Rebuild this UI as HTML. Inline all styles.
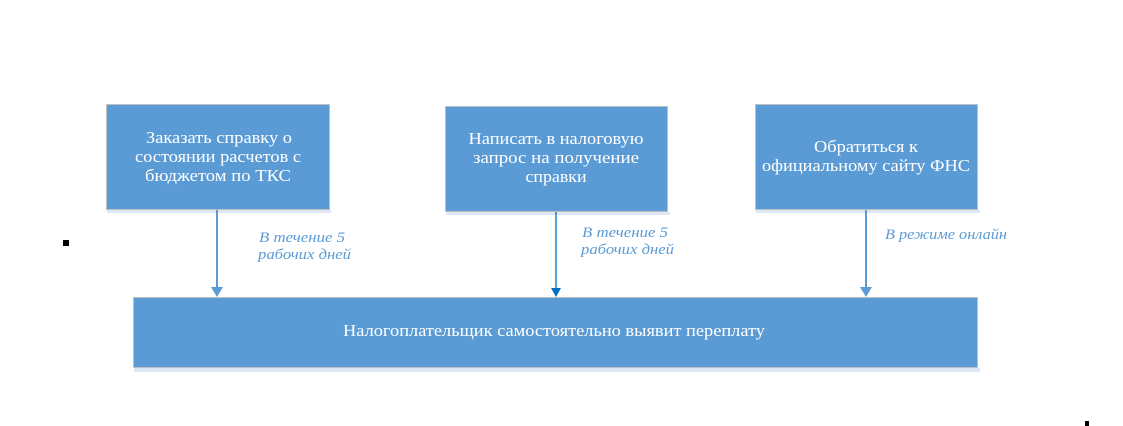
<!DOCTYPE html>
<html><head><meta charset="utf-8"><style>
html,body{margin:0;padding:0;background:#fff;}
svg{display:block}
.t{font-family:"Liberation Serif",serif;font-size:17px;fill:#fff;text-anchor:middle}
.l{font-family:"Liberation Serif",serif;font-size:15px;font-style:italic;fill:#5b9bd5}
</style></head><body>
<svg width="1123" height="426" viewBox="0 0 1123 426" xmlns="http://www.w3.org/2000/svg">
<rect x="107" y="210" width="224" height="3" fill="#dce8f5"/>
<rect x="446" y="212" width="224" height="3" fill="#dce8f5"/>
<rect x="756" y="210" width="224" height="3" fill="#dce8f5"/>
<rect x="134" y="368" width="846" height="4" fill="#dce8f5"/>
<rect x="106.5" y="104.5" width="223" height="105" fill="#5b9bd5" stroke="#bfbfbf"/>
<rect x="445.5" y="106.5" width="222" height="105" fill="#5b9bd5" stroke="#bfbfbf"/>
<rect x="755.5" y="104.5" width="222" height="105" fill="#5b9bd5" stroke="#bfbfbf"/>
<rect x="133.5" y="297.5" width="844" height="70" fill="#5b9bd5" stroke="#bfbfbf"/>
<text class="t" x="219" y="143" textLength="146" lengthAdjust="spacingAndGlyphs">Заказать справку о</text>
<text class="t" x="218" y="162" textLength="166" lengthAdjust="spacingAndGlyphs">состоянии расчетов с</text>
<text class="t" x="218" y="181" textLength="146" lengthAdjust="spacingAndGlyphs">бюджетом по ТКС</text>
<text class="t" x="556" y="144" textLength="175" lengthAdjust="spacingAndGlyphs">Написать в налоговую</text>
<text class="t" x="556" y="163" textLength="166" lengthAdjust="spacingAndGlyphs">запрос  на получение</text>
<text class="t" x="556" y="182" textLength="61" lengthAdjust="spacingAndGlyphs">справки</text>
<text class="t" x="866" y="152" textLength="104" lengthAdjust="spacingAndGlyphs">Обратиться к</text>
<text class="t" x="866" y="171" textLength="208" lengthAdjust="spacingAndGlyphs">официальному сайту ФНС</text>
<text class="t" x="554" y="336" textLength="422" lengthAdjust="spacingAndGlyphs">Налогоплательщик самостоятельно выявит переплату</text>
<line x1="217" y1="210" x2="217" y2="288" stroke="#5b9bd5" stroke-width="2"/>
<polygon points="211,287 223,287 217,297" fill="#5b9bd5"/>
<line x1="556" y1="212" x2="556" y2="290" stroke="#0070c0" stroke-width="1.3"/>
<polygon points="551,288 561,288 556,297" fill="#0070c0"/>
<line x1="866" y1="210" x2="866" y2="288" stroke="#5b9bd5" stroke-width="2"/>
<polygon points="860,287 872,287 866,297" fill="#5b9bd5"/>
<text class="l" x="259" y="242" textLength="86" lengthAdjust="spacingAndGlyphs">В течение 5</text>
<text class="l" x="258" y="259" textLength="93" lengthAdjust="spacingAndGlyphs">рабочих дней</text>
<text class="l" x="582" y="237" textLength="86" lengthAdjust="spacingAndGlyphs">В течение 5</text>
<text class="l" x="581" y="254" textLength="93" lengthAdjust="spacingAndGlyphs">рабочих дней</text>
<text class="l" x="885" y="239" textLength="122" lengthAdjust="spacingAndGlyphs">В режиме онлайн</text>
<rect x="63" y="240" width="6" height="6" fill="#000"/>
<rect x="1085" y="421" width="4" height="5" fill="#000"/>
</svg>
</body></html>
